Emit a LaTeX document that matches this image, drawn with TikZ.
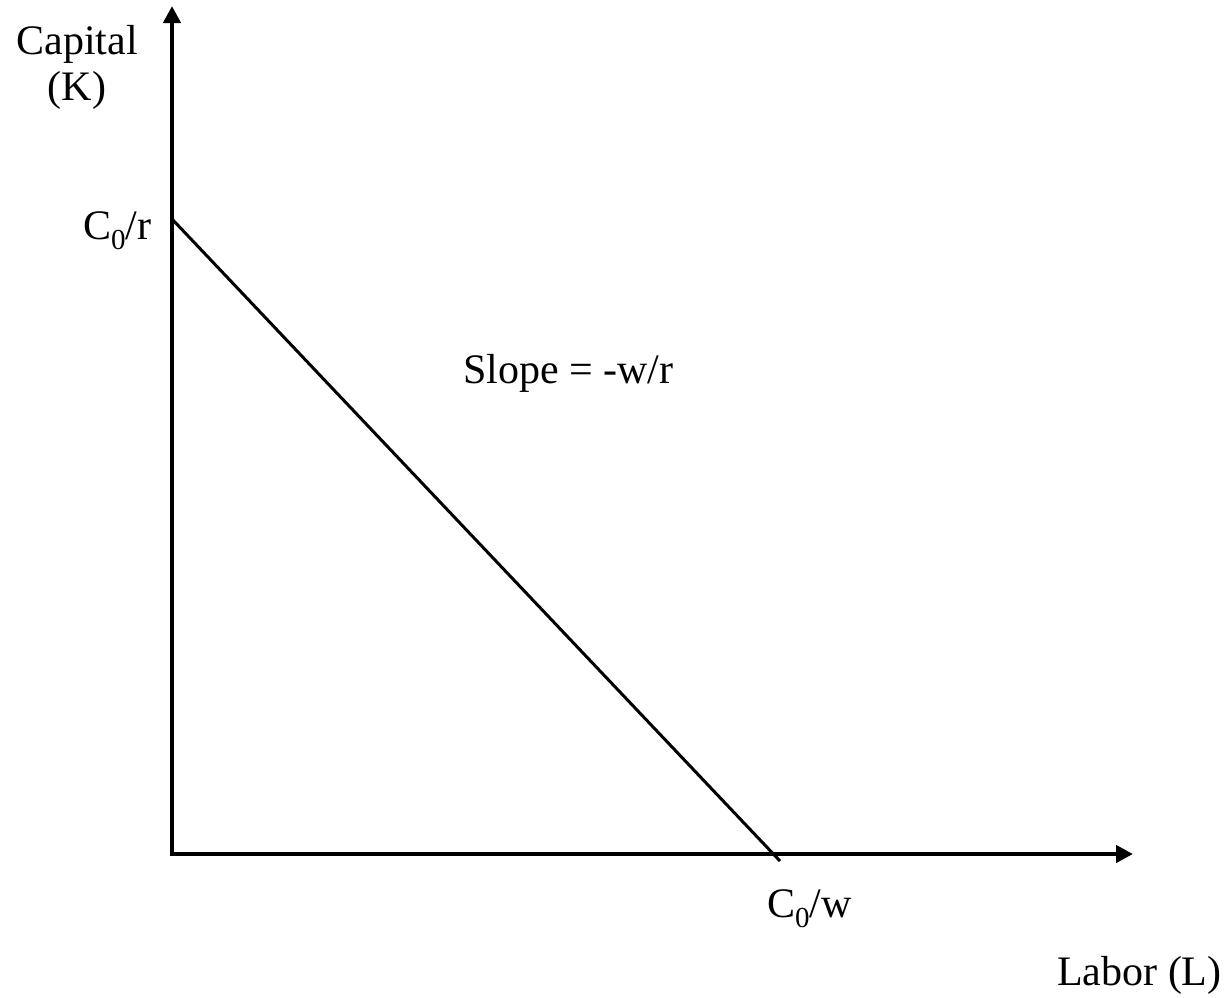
\documentclass[tikz,border=0pt]{standalone}
\usepackage{fontspec}
\setmainfont{Liberation Serif}
\usetikzlibrary{arrows.meta}
\newcommand{\subz}{\raisebox{-0.24em}{\fontsize{29}{29}\selectfont 0}}
\begin{document}
\begin{tikzpicture}[x=1pt,y=-1pt,
  lbl/.style={inner sep=0pt,anchor=base,font=\fontsize{42}{46}\selectfont},
  axis/.style={line width=4.5pt,-{Triangle[length=17pt,width=17pt]}},
  budget/.style={line width=3pt}]
\useasboundingbox (0,0) rectangle (1228,997);
\coordinate (O) at (172,854);
\coordinate (ytip) at (172,6);
\coordinate (xtip) at (1133,854);
\coordinate (kint) at (172,219);
\coordinate (lint) at (780,861);
\draw[axis] ([yshift=-2.25pt]O) -- (ytip);
\draw[axis] ([xshift=-2.25pt]O) -- (xtip);
\draw[budget] (kint) -- (lint);
\node[lbl] (cap) at (77,54) {Capital};
\node[lbl] (capk) at (77,100) {(K)};
\node[lbl,anchor=base west] (c0r) at (83,239) {C\subz/r};
\node[lbl,anchor=base west] (c0w) at (767,917) {C\subz/w};
\node[lbl,anchor=base west] (slope) at (463,383) {Slope = -w/r};
\node[lbl,anchor=base west] (labor) at (1057,985) {Labor (L)};
\end{tikzpicture}
\end{document}
